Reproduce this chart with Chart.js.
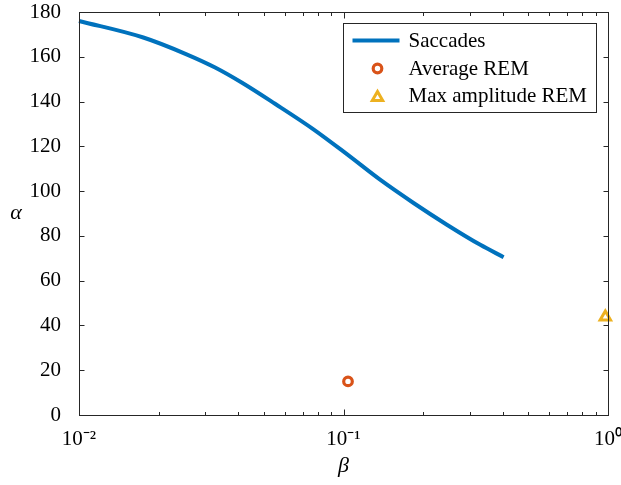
<!DOCTYPE html>
<html>
<head>
<meta charset="utf-8">
<script src="https://cdn.jsdelivr.net/npm/chart.js@4/dist/chart.umd.min.js"></script>
<style>
  html, body { margin: 0; padding: 0; background: #fff; }
  canvas { display: block; }
</style>
</head>
<body>
<canvas id="chart" width="621" height="485"></canvas>
<script>
// saccades curve
const saccadeBeta = [0.01, 0.0175, 0.0255, 0.0327, 0.0412, 0.0551, 0.077, 0.103, 0.1375, 0.184, 0.246, 0.329, 0.403];
const saccadeAlpha = [176.0, 168.6, 161.1, 155.2, 148.5, 139.0, 127.6, 116.5, 105.1, 94.7, 85.0, 76.0, 70.5];

const avgRemBeta = [0.104];
const avgRemAlpha = [15.0];

const maxRemBeta = [0.977];
const maxRemAlpha = [43.8];

const xTickValues = [0.01, 0.1, 1];
const xTickLabels = ['10\u207B\u00B2', '10\u207B\u00B9', '10\u2070'];
const yTickValues = [0, 20, 40, 60, 80, 100, 120, 140, 160, 180];

const serif = '"Liberation Serif", "Times New Roman", serif';
const axisColor = '#262626';

const toPoints = (xs, ys) => xs.map((x, i) => ({ x: x, y: ys[i] }));

// box around the plot with inward ticks on all four sides
const framePlugin = {
    id: 'frame',
    afterDraw(chart) {
        const ctx = chart.ctx;
        const area = chart.chartArea;
        const xs = chart.scales.x;
        const ys = chart.scales.y;
        const l = Math.round(area.left) + 0.5, r = Math.round(area.right) + 0.5;
        const t = Math.round(area.top) + 0.5, b = Math.round(area.bottom) + 0.5;

        ctx.save();
        ctx.strokeStyle = axisColor;
        ctx.lineWidth = 1;
        ctx.strokeRect(l, t, r - l, b - t);

        ctx.beginPath();
        for (let e = -2; e <= 0; e++) {
            for (let m = 1; m <= 9; m++) {
                const v = m * Math.pow(10, e);
                if (v < 0.01 - 1e-12 || v > 1 + 1e-12) continue;
                const px = Math.round(xs.getPixelForValue(v)) + 0.5;
                const len = m === 1 ? 6 : 3.5;
                ctx.moveTo(px, b); ctx.lineTo(px, b - len);
                ctx.moveTo(px, t); ctx.lineTo(px, t + len);
            }
        }
        yTickValues.forEach(v => {
            const py = Math.round(ys.getPixelForValue(v)) + 0.5;
            ctx.moveTo(l, py); ctx.lineTo(l + 5, py);
            ctx.moveTo(r, py); ctx.lineTo(r - 5, py);
        });
        ctx.stroke();

        // y axis title, upright like the original
        ctx.fillStyle = '#000';
        ctx.font = 'italic 22px ' + serif;
        ctx.textAlign = 'center';
        ctx.textBaseline = 'middle';
        ctx.fillText('\u03B1', 16, (area.top + area.bottom) / 2);
        ctx.restore();
    }
};

// legend drawn inside the plot, top right, with a border
const boxLegendPlugin = {
    id: 'boxLegend',
    afterDraw(chart) {
        const ctx = chart.ctx;
        const area = chart.chartArea;
        const left = Math.round(area.right - 265) + 0.5;
        const top = Math.round(area.top + 11) + 0.5;
        const w = 253, h = 89;
        const rows = [17, 45, 72];

        ctx.save();
        ctx.fillStyle = '#fff';
        ctx.fillRect(left, top, w, h);
        ctx.strokeStyle = axisColor;
        ctx.lineWidth = 1;
        ctx.strokeRect(left, top, w, h);

        chart.data.datasets.forEach((ds, i) => {
            const cy = top + rows[i];
            const cx = left + 34;
            ctx.strokeStyle = ds.borderColor;
            ctx.fillStyle = '#fff';
            if (ds.legendKind === 'line') {
                ctx.lineWidth = ds.borderWidth;
                ctx.beginPath();
                ctx.moveTo(left + 9, cy);
                ctx.lineTo(left + 56, cy);
                ctx.stroke();
            } else {
                ctx.lineWidth = ds.borderWidth;
                Chart.helpers.drawPoint(ctx, {
                    pointStyle: ds.pointStyle,
                    radius: ds.pointRadius,
                    rotation: 0,
                    borderWidth: ds.borderWidth
                }, cx, cy + (ds.pointStyle === 'triangle' ? 2 : 0));
            }
            ctx.fillStyle = '#000';
            ctx.font = '21px ' + serif;
            ctx.textAlign = 'left';
            ctx.textBaseline = 'middle';
            ctx.fillText(ds.label, left + 65, cy + 1);
        });
        ctx.restore();
    }
};

const ctx = document.getElementById('chart').getContext('2d');
new Chart(ctx, {
    type: 'scatter',
    data: {
        datasets: [
            {
                label: 'Saccades',
                legendKind: 'line',
                type: 'line',
                data: toPoints(saccadeBeta, saccadeAlpha),
                borderColor: '#0072BD',
                borderWidth: 4,
                pointRadius: 0,
                fill: false,
                cubicInterpolationMode: 'monotone',
                clip: false
            },
            {
                label: 'Average REM',
                data: toPoints(avgRemBeta, avgRemAlpha),
                pointStyle: 'circle',
                pointRadius: 4.3,
                borderWidth: 3.2,
                borderColor: '#D95319',
                backgroundColor: '#fff',
                clip: false
            },
            {
                label: 'Max amplitude REM',
                data: toPoints(maxRemBeta, maxRemAlpha),
                pointStyle: 'triangle',
                pointRadius: 6,
                borderWidth: 3,
                borderColor: '#EDB120',
                backgroundColor: '#fff',
                clip: false
            }
        ]
    },
    options: {
        responsive: false,
        animation: false,
        devicePixelRatio: 1,
        layout: { padding: { top: 12, right: 13, left: 0, bottom: 0 } },
        plugins: {
            legend: { display: false },
            tooltip: { enabled: false }
        },
        scales: {
            x: {
                type: 'logarithmic',
                min: 0.01,
                max: 1,
                grid: { display: false },
                border: { display: false },
                afterBuildTicks(scale) {
                    scale.ticks = xTickValues.map(v => ({ value: v }));
                },
                ticks: {
                    autoSkip: false,
                    maxRotation: 0,
                    padding: 4,
                    color: '#000',
                    font: { family: serif, size: 21 },
                    callback: function (value) {
                        const i = xTickValues.findIndex(v => Math.abs(v - value) < 1e-9);
                        return i >= 0 ? xTickLabels[i] : '';
                    }
                },
                title: {
                    display: true,
                    text: '\u03B2',
                    color: '#000',
                    font: { family: serif, size: 22, style: 'italic' },
                    padding: { top: 0, bottom: 6 }
                },
                afterFit(scale) {
                    scale.height = 70;
                    scale.paddingLeft = 0;
                    scale.paddingRight = 0;
                }
            },
            y: {
                min: 0,
                max: 180,
                grid: { display: false },
                border: { display: false },
                afterBuildTicks(scale) {
                    scale.ticks = yTickValues.map(v => ({ value: v }));
                },
                ticks: {
                    padding: 10,
                    color: '#000',
                    font: { family: serif, size: 21 }
                },
                afterFit(scale) {
                    scale.width = 79;
                    scale.paddingTop = 0;
                    scale.paddingBottom = 0;
                }
            }
        }
    },
    plugins: [framePlugin, boxLegendPlugin]
});
</script>
</body>
</html>
